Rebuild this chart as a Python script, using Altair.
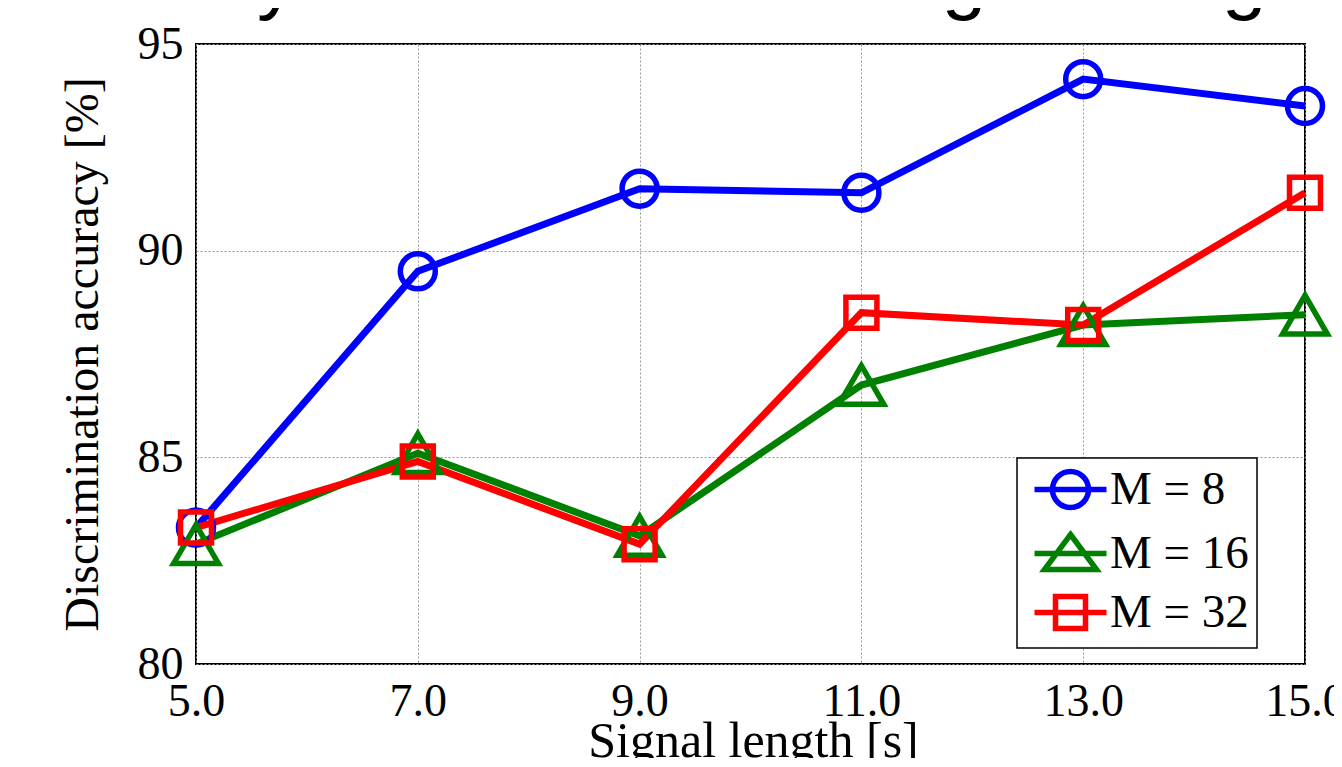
import altair as alt
import pandas as pd

# ---- data ----
lengths = [5.0, 7.0, 9.0, 11.0, 13.0, 15.0]
acc_m8 = [83.3, 89.5, 91.5, 91.4, 94.15, 93.5]
acc_m16 = [82.9, 85.1, 83.1, 86.75, 88.2, 88.45]
acc_m32 = [83.3, 84.9, 82.9, 88.5, 88.2, 91.4]
series = ["M = 8", "M = 16", "M = 32"]
x_ticks = [5, 7, 9, 11, 13, 15]
y_ticks = [80, 85, 90, 95]
title_text = "Accuracy as a function of signal length"

# ---- styles ----
colors = ["#0000ff", "#008000", "#ff0000"]
shapes = ["circle", "triangle-up", "square"]
marker_sizes = [1225, 2000, 960]
legend_paths = [
    "M-1.8,0H1.8M-0.9,0A0.9,0.9,0,1,1,0.9,0A0.9,0.9,0,1,1,-0.9,0Z",
    "M-1.8,0H1.8M0,-0.95L1.3,0.8L-1.3,0.8Z",
    "M-1.8,0H1.8M-0.75,-0.8H0.75V0.8H-0.75Z",
]
SERIF = "Liberation Serif"

rows = []
for name, vals in zip(series, [acc_m8, acc_m16, acc_m32]):
    for x, v in zip(lengths, vals):
        rows.append({"length": x, "acc": v, "series": name})
df = pd.DataFrame(rows)

x_axis = alt.Axis(
    values=x_ticks, format=".1f", title="Signal length [s]",
    labelFont=SERIF, labelFontSize=46, labelColor="black", labelFlush=False,
    labelOverlap=False, labelBaseline="alphabetic", labelPadding=51,
    titleFont=SERIF, titleFontSize=50, titleFontWeight="normal", titleColor="black",
    titleX=557, titleY=92, titleBaseline="alphabetic", titleAlign="center",
    ticks=False, tickSize=0, domain=False, grid=True,
    gridColor="#999999", gridDash=[2, 2], gridWidth=1,
)
y_axis = alt.Axis(
    values=y_ticks, title="Discrimination accuracy [%]",
    labelFont=SERIF, labelFontSize=46, labelColor="black", labelFlush=False,
    labelOverlap=False, labelPadding=13, labelBaseline="middle",
    titleFont=SERIF, titleFontSize=48, titleFontWeight="normal", titleColor="black",
    titleX=-99, titleY=310, titleBaseline="alphabetic", titleAlign="center", titleAngle=270,
    ticks=False, tickSize=0, domain=False, grid=True,
    gridColor="#999999", gridDash=[2, 2], gridWidth=1,
)

x_enc = alt.X("length:Q", scale=alt.Scale(domain=[5, 15], nice=False, zero=False), axis=x_axis)
y_enc = alt.Y("acc:Q", scale=alt.Scale(domain=[80, 95], nice=False, zero=False), axis=y_axis)
color_scale = alt.Scale(domain=series, range=colors)

base = alt.Chart(df)

lines = base.mark_line(strokeWidth=7).encode(
    x=x_enc, y=y_enc,
    color=alt.Color("series:N", scale=color_scale, legend=None),
)

point_layers = []
for name, col, shp, sz in zip(series, colors, shapes, marker_sizes):
    point_layers.append(
        base.transform_filter(alt.datum.series == name).mark_point(
            filled=False, strokeWidth=5.5, opacity=1, color=col, shape=shp, size=sz
        ).encode(x=x_enc, y=y_enc)
    )

legend = alt.Legend(
    orient="none", legendX=821, legendY=414, title=None,
    labelFont=SERIF, labelFontSize=47, labelColor="black", labelLimit=400,
    symbolSize=1600, symbolStrokeWidth=5.5, symbolOffset=22, labelOffset=16,
    padding=8, rowPadding=4, strokeColor="black", fillColor="white",
)

legend_layer = base.transform_filter("false").mark_point(filled=False, strokeWidth=5.5, opacity=1).encode(
    x=x_enc, y=y_enc,
    color=alt.Color("series:N", scale=alt.Scale(domain=series, range=colors), legend=legend),
    shape=alt.Shape("series:N", scale=alt.Scale(domain=series, range=legend_paths), legend=legend),
)

title_layer = alt.Chart(pd.DataFrame({"t": [title_text]})).mark_text(
    font="Liberation Sans", fontSize=80, align="left", baseline="alphabetic", color="black"
).encode(
    x=alt.value(-228), y=alt.value(-40), text="t:N"
)

chart = alt.layer(lines, *point_layers, legend_layer, title_layer).resolve_scale(
    color="independent", shape="independent"
).properties(
    width=1109, height=620,
    autosize=alt.AutoSizeParams(type="none"),
    padding={"left": 188, "top": 36, "right": 29, "bottom": 94},
    background="white",
).configure_view(
    stroke="black", strokeWidth=2
).configure_legend(
    strokeWidth=1.5
)

chart.save("out.html", embed_options={"renderer": "svg", "actions": False})
